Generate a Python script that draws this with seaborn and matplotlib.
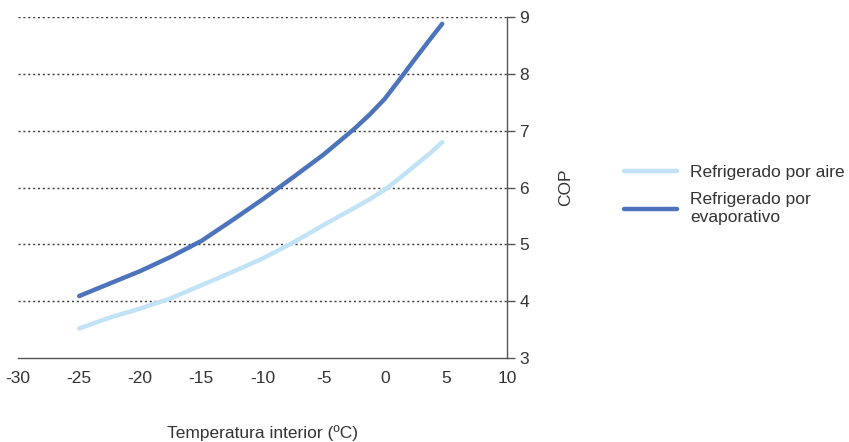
import pandas as pd
import matplotlib.pyplot as plt
import seaborn as sns

sns.set_theme(style="white")
plt.rcParams['font.family'] = ['Liberation Sans', 'DejaVu Sans']
plt.rcParams['axes.unicode_minus'] = False

# Datos (COP frente a temperatura interior)
temperatura = [-25, -22.5, -20, -17.5, -15, -12.5, -10, -7.5, -5, -2.5,
               -1.25, 0, 1.25, 2.5, 3.75, 4.7]
cop_aire = [3.52, 3.71, 3.87, 4.05, 4.28, 4.51, 4.75, 5.03, 5.34, 5.64,
            5.79, 5.96, 6.17, 6.39, 6.61, 6.80]
cop_evaporativo = [4.09, 4.31, 4.53, 4.78, 5.06, 5.42, 5.79, 6.18, 6.58, 7.03,
                   7.28, 7.56, 7.91, 8.27, 8.62, 8.88]

series = {
    'Refrigerado por aire': cop_aire,
    'Refrigerado por\nevaporativo': cop_evaporativo,
}
colores = ['#c2e2f6', '#4d74bb']

filas = []
for nombre, valores in series.items():
    for t, v in zip(temperatura, valores):
        filas.append({'temp': t, 'cop': v, 'tipo': nombre})
df = pd.DataFrame(filas)

fig = plt.figure(figsize=(8.49, 4.42), dpi=100)
ax = fig.add_axes([18 / 849, 84 / 442, 489 / 849, 341 / 442])

sns.lineplot(data=df, x='temp', y='cop', hue='tipo', palette=colores,
             linewidth=3.2, ax=ax, legend=True)
for linea in ax.get_lines():
    linea.set_solid_joinstyle('round')

ax.set_xlim(-30, 10)
ax.set_ylim(3, 9)
ax.set_xticks(range(-30, 11, 5))
ax.set_yticks(range(3, 10))

# eje Y a la derecha
ax.yaxis.tick_right()
ax.yaxis.set_label_position('right')
for lado in ['left', 'top']:
    ax.spines[lado].set_visible(False)
for lado in ['right', 'bottom']:
    ax.spines[lado].set_color('#555555')
    ax.spines[lado].set_linewidth(1.0)

ax.tick_params(axis='both', colors='#555555', labelcolor='#333333',
               labelsize=12.5, direction='out', length=6, width=1.0)
ax.tick_params(axis='y', pad=3)

for y in range(4, 10):
    ax.axhline(y, color='#3a3a3a', linestyle=(0, (1.5, 2)), linewidth=1.0, zorder=0)

ax.set_xlabel('Temperatura interior (ºC)', fontsize=12.5, color='#333333', labelpad=28)
ax.set_ylabel('COP', fontsize=12.5, color='#333333', labelpad=21)

ax.legend(loc='center left', bbox_to_anchor=(608 / 849, 1 - 195 / 442),
          bbox_transform=fig.transFigure, frameon=False, fontsize=12.5,
          handlelength=3.1, handletextpad=0.75, labelspacing=0.7,
          labelcolor='#333333')

fig.savefig('out.png', dpi=100)
